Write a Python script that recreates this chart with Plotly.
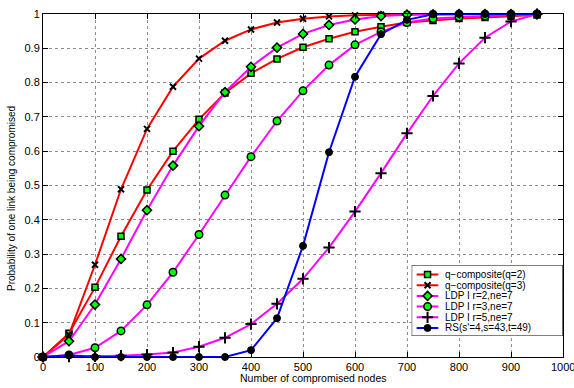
import plotly.graph_objects as go

x_nodes = [0, 50, 100, 150, 200, 250, 300, 350, 400, 450, 500, 550, 600, 650, 700, 750, 800, 850, 900, 950]

q2 = [0, 0.069, 0.203, 0.352, 0.487, 0.600, 0.693, 0.770, 0.827, 0.869, 0.903, 0.928, 0.948, 0.963, 0.975, 0.981, 0.987, 0.990, 0.993, 0.997]
q3 = [0, 0.065, 0.269, 0.489, 0.665, 0.788, 0.870, 0.922, 0.955, 0.975, 0.986, 0.993, 0.996, 0.998, 0.999, 1.0, 1.0, 1.0, 1.0, 1.0]
ldp_r2 = [0, 0.046, 0.153, 0.286, 0.428, 0.558, 0.673, 0.772, 0.846, 0.902, 0.942, 0.968, 0.984, 0.994, 0.998, 0.999, 1.0, 1.0, 1.0, 1.0]
ldp_r3 = [0, 0.006, 0.027, 0.076, 0.152, 0.247, 0.357, 0.472, 0.584, 0.688, 0.776, 0.851, 0.910, 0.948, 0.975, 0.987, 0.991, 0.994, 0.997, 1.0]
ldp_r5 = [0, 0.001, 0.002, 0.004, 0.007, 0.013, 0.030, 0.056, 0.096, 0.155, 0.228, 0.319, 0.424, 0.536, 0.652, 0.761, 0.856, 0.931, 0.978, 1.0]
rs = [0, 0.005, 0.0, 0.0, 0.0, 0.0, 0.0, 0.0, 0.020, 0.113, 0.324, 0.597, 0.817, 0.941, 0.983, 0.999, 1.0, 1.0, 1.0, 1.0]

names = ["q\u2212composite(q=2)", "q\u2212composite(q=3)", "LDP I r=2,ne=7", "LDP I r=3,ne=7", "LDP I r=5,ne=7", "RS(s'=4,s=43,t=49)"]

x_ticks = [0, 100, 200, 300, 400, 500, 600, 700, 800, 900, 1000]
x_tick_labels = ["0", "100", "200", "300", "400", "500", "600", "700", "800", "900", "1000"]
y_ticks = [0, 0.1, 0.2, 0.3, 0.4, 0.5, 0.6, 0.7, 0.8, 0.9, 1]
y_tick_labels = ["0", "0.1", "0.2", "0.3", "0.4", "0.5", "0.6", "0.7", "0.8", "0.9", "1"]

x_title = "Number of compromised nodes"
y_title = "Probability of one link being compromised"

GREEN = "#00ff00"
RED = "#ff0000"
MAG = "#ff00ff"
BLUE = "#0000ff"
FONT = "Liberation Sans, Arial, sans-serif"

styles = [
    (q2, RED, dict(symbol="square", size=6, color=GREEN, line=dict(color="black", width=1.5))),
    (q3, RED, dict(symbol="x-thin", size=6, color="black", line=dict(color="black", width=2))),
    (ldp_r2, MAG, dict(symbol="diamond", size=7, color=GREEN, line=dict(color="black", width=1.5))),
    (ldp_r3, MAG, dict(symbol="circle", size=7.5, color=GREEN, line=dict(color="black", width=1.5))),
    (ldp_r5, MAG, dict(symbol="cross-thin", size=8, color="black", line=dict(color="black", width=2))),
    (rs, BLUE, dict(symbol="circle", size=7, color="black", line=dict(color="black", width=1))),
]

fig = go.Figure()
for (ys, lc, mk), nm in zip(styles, names):
    fig.add_trace(go.Scatter(
        x=x_nodes, y=ys, mode="lines+markers", name=nm,
        line=dict(color=lc, width=2), marker=mk, cliponaxis=False, showlegend=False,
    ))

# ---- custom compact legend drawn in an overlay subplot (unit box 0..1) ----
fig.add_trace(go.Scatter(
    x=[0, 1, 1, 0, 0], y=[0, 0, 1, 1, 0], mode="lines", fill="toself",
    fillcolor="white", line=dict(color="black", width=1), xaxis="x2", yaxis="y2",
    showlegend=False, hoverinfo="skip", cliponaxis=False,
))
n = len(names)
top_y, bot_y = 0.866, 0.113
for i, ((ys, lc, mk), nm) in enumerate(zip(styles, names)):
    yy = top_y - i * (top_y - bot_y) / (n - 1)
    fig.add_trace(go.Scatter(
        x=[0.033, 0.176], y=[yy, yy], mode="lines", line=dict(color=lc, width=2),
        xaxis="x2", yaxis="y2", showlegend=False, hoverinfo="skip", cliponaxis=False,
    ))
    fig.add_trace(go.Scatter(
        x=[0.105], y=[yy], mode="markers", marker=mk,
        xaxis="x2", yaxis="y2", showlegend=False, hoverinfo="skip", cliponaxis=False,
    ))
    fig.add_annotation(x=0.209, y=yy, xref="x2", yref="y2", text=nm, showarrow=False,
                       xanchor="left", yanchor="middle",
                       font=dict(family=FONT, size=10, color="black"))

axis_common = dict(
    showline=True, linecolor="black", linewidth=1, mirror="ticks",
    ticks="inside", ticklen=5, tickcolor="black",
    showgrid=True, gridcolor="#8c8c8c", griddash="dot", gridwidth=1,
    zeroline=False, automargin=False,
    tickfont=dict(family=FONT, size=11, color="black"),
)

W, H = 574, 388
L, R, T, B = 43, 11, 14, 31
pw, ph = W - L - R, H - T - B

def px2paper_x(p):
    return (p - L) / pw

def px2paper_y(p):
    return (H - B - p) / ph

# last x tick label sits on the page edge: draw it as text so it is not dropped
shown_x_labels = x_tick_labels[:-1] + [""]

fig.update_layout(
    width=W, height=H,
    margin=dict(l=L, r=R, t=T, b=B),
    paper_bgcolor="white", plot_bgcolor="white",
    font=dict(family=FONT, color="black"),
    xaxis=dict(range=[0, 1000], tickvals=x_ticks, ticktext=shown_x_labels,
               ticklabeloverflow="allow", **axis_common),
    yaxis=dict(range=[0, 1], tickvals=y_ticks, ticktext=y_tick_labels, **axis_common),
    xaxis2=dict(domain=[px2paper_x(411.7), px2paper_x(562.7)], range=[0, 1], visible=False,
                anchor="y2", fixedrange=True),
    yaxis2=dict(domain=[px2paper_y(336), px2paper_y(265)], range=[0, 1], visible=False,
                anchor="x2", fixedrange=True),
    showlegend=False,
)

fig.add_annotation(x=x_ticks[-1], y=px2paper_y(366.5), xref="x", yref="paper",
                   text=x_tick_labels[-1], showarrow=False, xanchor="center", yanchor="middle",
                   font=dict(family=FONT, size=11, color="black"))
fig.add_annotation(x=px2paper_x(312.5), y=px2paper_y(378.5), xref="paper", yref="paper",
                   text=x_title, showarrow=False, xanchor="center", yanchor="middle",
                   font=dict(family=FONT, size=10.5, color="black"))
fig.add_annotation(x=px2paper_x(11), y=px2paper_y(199), xref="paper", yref="paper",
                   text=y_title, showarrow=False, textangle=-90, xanchor="center", yanchor="middle",
                   font=dict(family=FONT, size=10, color="black"))

fig.write_html("out.html", config={"displayModeBar": False},
               post_script="document.body.style.margin='0';document.body.style.overflow='hidden';")
